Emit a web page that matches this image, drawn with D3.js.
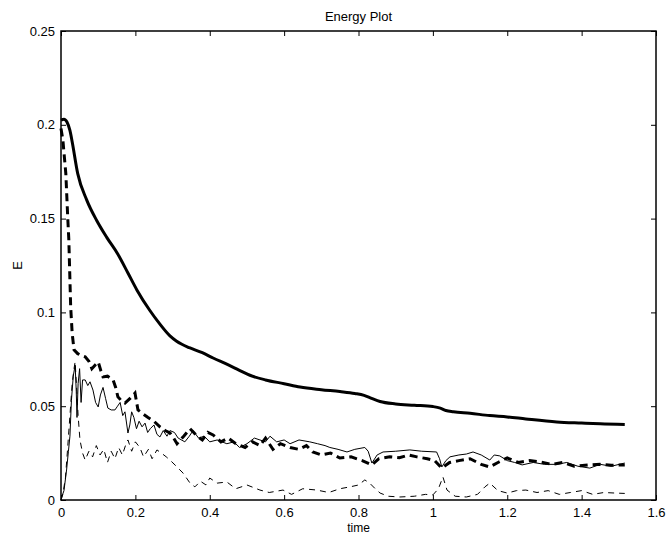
<!DOCTYPE html>
<html>
<head>
<meta charset="utf-8">
<script src="https://cdn.jsdelivr.net/npm/d3@7"></script>
<style>
  body { margin: 0; background: #fff; }
  text { font-family: "Liberation Sans", Arial, sans-serif; fill: #000; }
</style>
</head>
<body>
<script>
var svgWidth = 667;
var svgHeight = 535;

var margin = { top: 31, right: 11, bottom: 35, left: 61 };
var width = svgWidth - margin.left - margin.right;
var height = svgHeight - margin.top - margin.bottom;

// tick values
var xTicks = [0, 0.2, 0.4, 0.6, 0.8, 1, 1.2, 1.4, 1.6];
var yTicks = [0, 0.05, 0.1, 0.15, 0.2, 0.25];

// series, [time, E]
var totalEnergy = [[0,0.2025],[0.008,0.203],[0.016,0.2015],[0.024,0.197],[0.03,0.191],[0.045,0.174],[0.069,0.16],[0.096,0.149],[0.123,0.14],[0.153,0.131],[0.18,0.121],[0.204,0.112],[0.239,0.101],[0.265,0.094],[0.293,0.0875],[0.31,0.0848],[0.325,0.083],[0.345,0.0812],[0.38,0.0785],[0.409,0.0757],[0.45,0.072],[0.481,0.069],[0.508,0.0665],[0.55,0.064],[0.6,0.062],[0.643,0.0602],[0.7,0.0588],[0.75,0.0578],[0.79,0.0568],[0.815,0.0558],[0.835,0.0542],[0.858,0.0525],[0.9,0.0512],[0.95,0.0505],[1.0,0.0498],[1.02,0.049],[1.035,0.0477],[1.055,0.047],[1.1,0.0462],[1.153,0.045],[1.2,0.0443],[1.25,0.0432],[1.333,0.0416],[1.4,0.041],[1.45,0.0406],[1.516,0.0403]];

var thickDashed = [[0,0.198],[0.005,0.192],[0.013,0.174],[0.018,0.151],[0.021,0.139],[0.026,0.103],[0.03,0.089],[0.035,0.08],[0.045,0.078],[0.055,0.077],[0.065,0.0763],[0.075,0.074],[0.083,0.07],[0.092,0.072],[0.1,0.0736],[0.107,0.069],[0.113,0.0656],[0.125,0.066],[0.14,0.064],[0.147,0.06],[0.153,0.055],[0.162,0.053],[0.172,0.0517],[0.185,0.054],[0.199,0.057],[0.207,0.048],[0.22,0.046],[0.234,0.044],[0.25,0.042],[0.266,0.039],[0.28,0.037],[0.293,0.0357],[0.303,0.033],[0.312,0.03],[0.33,0.034],[0.347,0.038],[0.357,0.036],[0.366,0.034],[0.38,0.032],[0.395,0.036],[0.409,0.0347],[0.43,0.031],[0.45,0.033],[0.47,0.03],[0.495,0.028],[0.515,0.031],[0.535,0.029],[0.55,0.033],[0.57,0.027],[0.59,0.03],[0.616,0.028],[0.64,0.027],[0.66,0.029],[0.677,0.0256],[0.7,0.024],[0.725,0.025],[0.75,0.0224],[0.78,0.023],[0.81,0.021],[0.836,0.0187],[0.855,0.022],[0.884,0.023],[0.91,0.0225],[0.935,0.024],[0.957,0.023],[0.985,0.022],[1.005,0.021],[1.024,0.017],[1.045,0.02],[1.07,0.021],[1.1,0.022],[1.13,0.019],[1.153,0.0176],[1.175,0.02],[1.2,0.0224],[1.23,0.02],[1.26,0.021],[1.288,0.0203],[1.32,0.019],[1.35,0.02],[1.38,0.018],[1.422,0.0187],[1.45,0.019],[1.48,0.0185],[1.516,0.0187]];

var thinSolid = [[0,0],[0.002,0.0016],[0.008,0.005],[0.015,0.016],[0.02,0.026],[0.024,0.034],[0.028,0.053],[0.033,0.066],[0.038,0.072],[0.041,0.058],[0.043,0.044],[0.046,0.062],[0.05,0.07],[0.054,0.052],[0.058,0.064],[0.065,0.064],[0.072,0.061],[0.078,0.063],[0.086,0.0586],[0.093,0.052],[0.1,0.0496],[0.106,0.056],[0.113,0.06],[0.12,0.054],[0.126,0.049],[0.135,0.048],[0.145,0.048],[0.152,0.05],[0.159,0.052],[0.166,0.045],[0.172,0.047],[0.18,0.0357],[0.185,0.04],[0.19,0.047],[0.196,0.044],[0.203,0.038],[0.21,0.042],[0.218,0.039],[0.226,0.041],[0.233,0.036],[0.24,0.038],[0.25,0.04],[0.258,0.035],[0.266,0.0336],[0.275,0.037],[0.285,0.034],[0.293,0.037],[0.305,0.036],[0.315,0.033],[0.333,0.031],[0.345,0.034],[0.355,0.037],[0.37,0.033],[0.385,0.034],[0.4,0.031],[0.42,0.032],[0.446,0.03],[0.465,0.031],[0.48,0.028],[0.5,0.03],[0.52,0.033],[0.535,0.032],[0.55,0.031],[0.562,0.034],[0.58,0.031],[0.6,0.032],[0.616,0.03],[0.64,0.032],[0.669,0.031],[0.69,0.03],[0.71,0.029],[0.723,0.028],[0.745,0.027],[0.769,0.0256],[0.79,0.027],[0.817,0.028],[0.826,0.026],[0.836,0.0197],[0.85,0.024],[0.866,0.0256],[0.9,0.026],[0.938,0.0267],[0.97,0.026],[1.01,0.0256],[1.018,0.022],[1.024,0.0176],[1.035,0.021],[1.046,0.023],[1.07,0.024],[1.09,0.0245],[1.108,0.0256],[1.13,0.024],[1.153,0.0213],[1.165,0.024],[1.18,0.0235],[1.2,0.021],[1.22,0.02],[1.24,0.0187],[1.27,0.02],[1.3,0.019],[1.333,0.019],[1.36,0.02],[1.39,0.018],[1.422,0.017],[1.45,0.019],[1.48,0.018],[1.516,0.0197]];

var thinDashed = [[0,0],[0.005,0.003],[0.012,0.012],[0.018,0.028],[0.024,0.045],[0.03,0.062],[0.035,0.07],[0.038,0.0736],[0.042,0.06],[0.046,0.045],[0.051,0.032],[0.058,0.025],[0.065,0.0213],[0.075,0.026],[0.085,0.023],[0.095,0.029],[0.105,0.024],[0.115,0.027],[0.125,0.02],[0.135,0.026],[0.145,0.022],[0.155,0.028],[0.165,0.024],[0.175,0.03],[0.18,0.032],[0.19,0.026],[0.2,0.031],[0.212,0.028],[0.222,0.023],[0.235,0.027],[0.245,0.022],[0.258,0.0267],[0.27,0.025],[0.283,0.023],[0.293,0.0213],[0.31,0.018],[0.328,0.0144],[0.347,0.009],[0.36,0.007],[0.375,0.01],[0.39,0.008],[0.4,0.0117],[0.42,0.009],[0.446,0.0096],[0.47,0.006],[0.5,0.008],[0.535,0.0053],[0.56,0.004],[0.597,0.0053],[0.62,0.003],[0.65,0.006],[0.688,0.0053],[0.72,0.004],[0.75,0.006],[0.777,0.007],[0.8,0.008],[0.817,0.0107],[0.83,0.009],[0.845,0.006],[0.858,0.0037],[0.88,0.002],[0.911,0.0016],[0.95,0.002],[0.98,0.003],[1.0,0.0027],[1.015,0.006],[1.027,0.0123],[1.038,0.0053],[1.06,0.002],[1.09,0.0016],[1.12,0.003],[1.14,0.007],[1.153,0.009],[1.175,0.005],[1.2,0.0037],[1.225,0.005],[1.25,0.0053],[1.28,0.004],[1.31,0.005],[1.34,0.003],[1.37,0.004],[1.4,0.005],[1.43,0.003],[1.46,0.004],[1.49,0.0037],[1.516,0.0035]];

var svg = d3.select("body")
  .append("svg")
  .attr("width", svgWidth)
  .attr("height", svgHeight);

var chartGroup = svg.append("g")
  .attr("transform", `translate(${margin.left}, ${margin.top})`);

var x = d3.scaleLinear().domain([0, 1.6]).range([0, width]);
var y = d3.scaleLinear().domain([0, 0.25]).range([height, 0]);

var fmt = d3.format("~g");

// axes, ticks pointing in (matlab style)
var bottomAxis = d3.axisBottom(x).tickValues(xTicks).tickSize(-5).tickPadding(8).tickFormat(fmt);
var leftAxis = d3.axisLeft(y).tickValues(yTicks).tickSize(-5).tickPadding(6).tickFormat(fmt);
var topAxis = d3.axisTop(x).tickValues(xTicks).tickSize(-5).tickFormat("");
var rightAxis = d3.axisRight(y).tickValues(yTicks).tickSize(-5).tickFormat("");

function styleAxis(g) {
  g.select(".domain").remove();
  g.selectAll("line").attr("stroke", "#000");
  g.selectAll("text").style("font-size", "13px").attr("fill", "#000");
}

chartGroup.append("g").attr("transform", `translate(0, ${height})`).call(bottomAxis).call(styleAxis);
chartGroup.append("g").call(leftAxis).call(styleAxis);
chartGroup.append("g").call(topAxis).call(styleAxis);
chartGroup.append("g").attr("transform", `translate(${width}, 0)`).call(rightAxis).call(styleAxis);

var line = d3.line()
  .x(d => x(d[0]))
  .y(d => y(d[1]));

var smoothLine = d3.line()
  .x(d => x(d[0]))
  .y(d => y(d[1]))
  .curve(d3.curveMonotoneX);

chartGroup.append("path").datum(thinDashed)
  .attr("d", line).attr("fill", "none").attr("stroke", "#000")
  .attr("stroke-width", 1).attr("stroke-dasharray", "6,5");

chartGroup.append("path").datum(thinSolid)
  .attr("d", line).attr("fill", "none").attr("stroke", "#000")
  .attr("stroke-width", 1);

chartGroup.append("path").datum(thickDashed)
  .attr("d", line).attr("fill", "none").attr("stroke", "#000")
  .attr("stroke-width", 3).attr("stroke-dasharray", "8,5");

chartGroup.append("path").datum(totalEnergy)
  .attr("d", smoothLine).attr("fill", "none").attr("stroke", "#000")
  .attr("stroke-width", 3);

// box
chartGroup.append("rect")
  .attr("width", width).attr("height", height)
  .attr("fill", "none").attr("stroke", "#000").attr("stroke-width", 1.5);

// labels
svg.append("text")
  .attr("x", margin.left + width / 2).attr("y", 21)
  .attr("text-anchor", "middle").style("font-size", "13px")
  .text("Energy Plot");

svg.append("text")
  .attr("x", margin.left + width / 2).attr("y", 532)
  .attr("text-anchor", "middle").style("font-size", "12px")
  .text("time");

svg.append("text")
  .attr("transform", `translate(22, ${margin.top + height / 2}) rotate(-90)`)
  .attr("text-anchor", "middle").style("font-size", "13px")
  .text("E");
</script>
</body>
</html>
